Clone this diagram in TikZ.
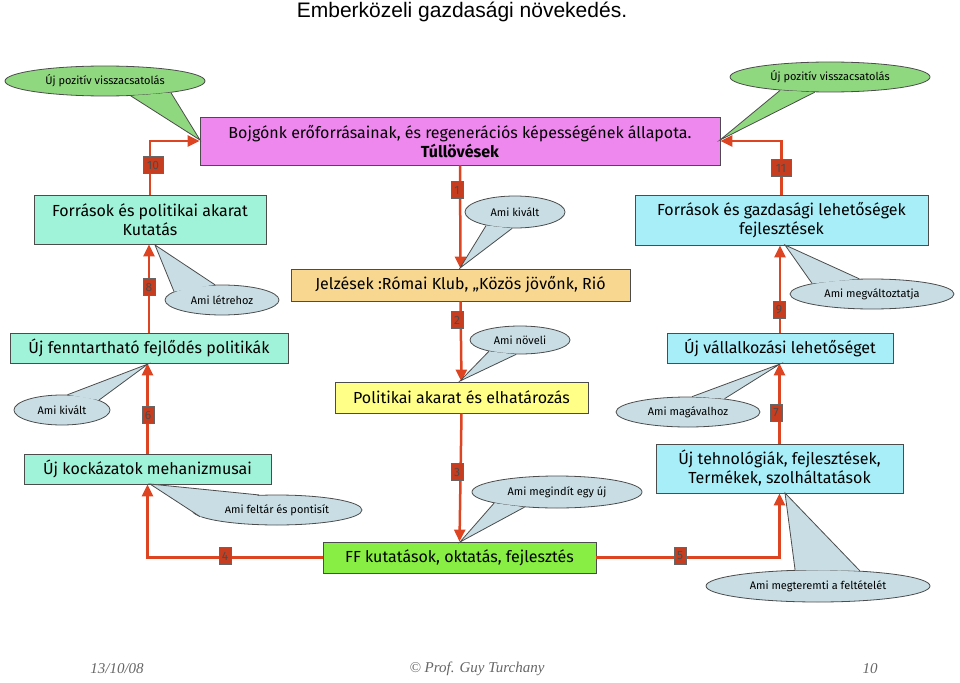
\documentclass[tikz,border=0pt]{standalone}
\usepackage{fontspec}
\setmainfont{Liberation Sans}
\newfontfamily\boxfont{Fira Sans}
\newfontfamily\footfont{Liberation Serif}
\usetikzlibrary{shapes.geometric,arrows.meta}
\definecolor{lred}{HTML}{DD4422}
\definecolor{teal1}{HTML}{A0F2D8}
\definecolor{cyan1}{HTML}{A8EEF8}
\definecolor{mag}{HTML}{EE88EE}
\definecolor{orng}{HTML}{F8D890}
\definecolor{yel}{HTML}{FFFF88}
\definecolor{grn}{HTML}{88EE44}
\definecolor{cbl}{HTML}{C8DDE4}
\definecolor{cgr}{HTML}{90D880}
\tikzset{
 box/.style={draw=black!70,line width=0.8pt,align=center,font=\boxfont\fontsize{16}{19}\selectfont,inner sep=0pt},
 conn/.style={draw=lred,line width=2.5pt,-{Triangle[length=12pt,width=11pt]}},
 flagn/.style={fill=lred!90!black,draw=black!60,line width=0.5pt,minimum width=12pt,minimum height=17pt,inner sep=0pt,font=\boxfont\fontsize{12}{12}\selectfont,text=black!70},
 bub/.style={ellipse,draw=black!70,line width=0.8pt,inner sep=0pt,font=\boxfont\fontsize{11}{13}\selectfont},
 ptr/.style={draw=black!70,line width=0.8pt}
}
\begin{document}
\begin{tikzpicture}[x=1pt,y=-1pt]
\useasboundingbox (0,0) rectangle (960,682);
\node[font=\fontsize{21}{24}\selectfont] (title) at (462,12) {Emberközeli gazdasági növekedés.};
% boxes
\node[box,fill=mag,minimum width=520pt,minimum height=48pt] (top) at (460,141) {Bojgónk erőforrásainak, és regenerációs képességének állapota.\\\textbf{Túllövések}};
\node[box,fill=teal1,minimum width=232pt,minimum height=49pt] (l1) at (150,219.5) {Források és politikai akarat\\Kutatás};
\node[box,fill=cyan1,minimum width=293pt,minimum height=50pt] (r1) at (781.5,220) {Források és gazdasági lehetőségek\\fejlesztések};
\node[box,fill=orng,minimum width=339pt,minimum height=32pt] (or) at (460.5,285) {Jelzések :Római Klub, „Közös jövőnk, Rió};
\node[box,fill=teal1,minimum width=278pt,minimum height=30pt] (l2) at (149,348) {Új fenntartható fejlődés politikák};
\node[box,fill=cyan1,minimum width=226pt,minimum height=30pt] (r2) at (780,348) {Új vállalkozási lehetőséget};
\node[box,fill=yel,minimum width=253pt,minimum height=31pt] (ye) at (461.5,397.5) {Politikai akarat és elhatározás};
\node[box,fill=teal1,minimum width=247pt,minimum height=30pt] (l3) at (147.5,469) {Új kockázatok mehanizmusai};
\node[box,fill=cyan1,minimum width=247pt,minimum height=49pt] (r3) at (779.5,468.5) {Új tehnológiák, fejlesztések,\\Termékek, szolháltatások};
\node[box,fill=grn,minimum width=273pt,minimum height=31pt] (gr) at (459.5,557.5) {FF kutatások, oktatás, fejlesztés};
% connectors
\draw[conn] (top.south) -- (or.north);
\draw[conn] (or.south) -- (ye.north);
\draw[conn] (ye.south) -- (gr.north);
\draw[conn] (gr.west) -| (l3.south);
\draw[conn] (gr.east) -| (r3.south);
\draw[conn] (l3.north) -- (l2.south -| l3.north);
\draw[conn] (l2.north) -- (l1.south -| l2.north);
\draw[conn] (l1.north) |- (top.west);
\draw[conn] (r3.north) -- (r2.south -| r3.north);
\draw[conn] (r2.north) -- (r1.south -| r2.north);
\draw[conn] (r1.north) |- (top.east);
% flags
\node[flagn] (f1) at (457,190) {1};
\node[flagn] (f2) at (457,320) {2};
\node[flagn] (f3) at (457,472) {3};
\node[flagn] (f4) at (225,556) {4};
\node[flagn] (f5) at (680,556) {5};
\node[flagn] (f6) at (148,415) {6};
\node[flagn] (f7) at (776,413) {7};
\node[flagn] (f8) at (149,287) {8};
\node[flagn] (f9) at (779,310) {9};
\node[flagn,minimum width=20pt] (f10) at (153,165) {10};
\node[flagn,minimum width=20pt] (f11) at (781,168) {11};
% callouts
\newcommand{\callout}[9]{%
 \node[bub,fill=#9,minimum width=#3pt,minimum height=#4pt] (#1) at (#2) {#5};
 \filldraw[ptr,fill=#9] (#1.#6) -- (#8) -- (#1.#7);
}
\coordinate (t1) at (200,140);
\coordinate (t2) at (720,140);
\coordinate (t3) at (460,268);
\coordinate (t4) at (155,245);
\coordinate (t5) at (785,245);
\coordinate (t6) at (460,381);
\coordinate (t7) at (148,364);
\coordinate (t8) at (780,364);
\coordinate (t9) at (150,484);
\coordinate (t10) at (460,542);
\coordinate (t11) at (785,493);
\callout{c1}{105,81}{200}{30}{Új pozitív visszacsatolás}{330}{350}{t1}{cgr}
\callout{c2}{830,77}{200}{30}{Új pozitív visszacsatolás}{225}{195}{t2}{cgr}
\callout{c3}{515,212}{100}{32}{Ami kivált}{260}{205}{t3}{cbl}
\callout{c4}{222,300}{114}{30}{Ami létrehoz}{170}{115}{t4}{cbl}
\callout{c5}{872,294}{164}{30}{Ami megváltoztatja}{170}{130}{t5}{cbl}
\callout{c6}{520,340}{100}{28}{Ami növeli}{255}{200}{t6}{cbl}
\callout{c7}{62,410}{96}{30}{Ami kivált}{70}{15}{t7}{cbl}
\callout{c8}{688,412}{144}{30}{Ami magávalhoz}{75}{20}{t8}{cbl}
\callout{c9}{277,510}{170}{30}{Ami feltár és pontisít}{185}{140}{t9}{cbl}
\callout{c10}{557,492}{170}{32}{Ami megindít egy új}{190}{205}{t10}{cbl}
\callout{c11}{818,586}{224}{32}{Ami megteremti a feltételét}{145}{20}{t11}{cbl}
% footer
\node[font=\footfont\itshape\fontsize{15}{18}\selectfont,text=black!60] (d) at (117,669) {13/10/08};
\node[font=\footfont\itshape\fontsize{15}{18}\selectfont,text=black!60] (a) at (477,669) {© Prof. Guy Turchany};
\node[font=\footfont\itshape\fontsize{15}{18}\selectfont,text=black!60] (p) at (870,669) {10};
\end{tikzpicture}
\end{document}
